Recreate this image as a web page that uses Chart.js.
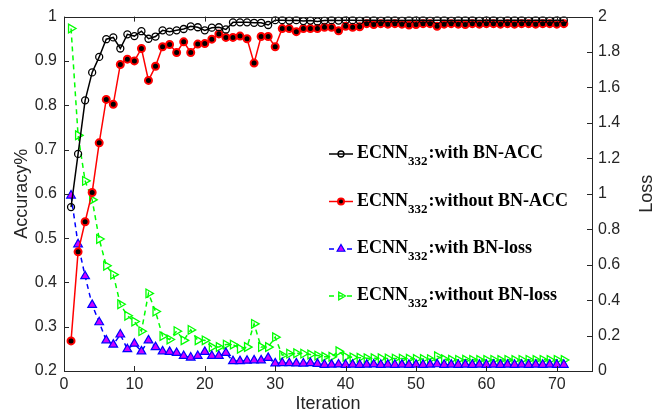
<!DOCTYPE html>
<html>
<head>
<meta charset="utf-8">
<script src="https://cdn.jsdelivr.net/npm/chart.js@4.4.1/dist/chart.umd.min.js"></script>
<style>
  html, body { margin: 0; padding: 0; background: #fff; }
  #chart { display: block; }
</style>
</head>
<body>
<canvas id="chart" width="658" height="415"></canvas>
<script>
// Iterations on the x axis
const iterations = [1, 2, 3, 4, 5, 6, 7, 8, 9, 10, 11, 12, 13, 14, 15, 16, 17, 18, 19, 20,
  21, 22, 23, 24, 25, 26, 27, 28, 29, 30, 31, 32, 33, 34, 35, 36, 37, 38, 39, 40,
  41, 42, 43, 44, 45, 46, 47, 48, 49, 50, 51, 52, 53, 54, 55, 56, 57, 58, 59, 60,
  61, 62, 63, 64, 65, 66, 67, 68, 69, 70, 71];

// Accuracy with BN (left axis)
const accWithBN = [0.570, 0.690, 0.811, 0.874, 0.909, 0.949, 0.953, 0.928, 0.960, 0.956,
  0.967, 0.950, 0.955, 0.969, 0.966, 0.969, 0.972, 0.978, 0.976, 0.969,
  0.975, 0.976, 0.971, 0.987, 0.987, 0.987, 0.986, 0.986, 0.981, 0.992,
  0.992, 0.991, 0.992, 0.990, 0.991, 0.989, 0.991, 0.992, 0.991, 0.992,
  0.992, 0.991, 0.992, 0.992, 0.991, 0.992, 0.992, 0.991, 0.992, 0.992,
  0.992, 0.991, 0.992, 0.992, 0.991, 0.992, 0.992, 0.992, 0.991, 0.992,
  0.992, 0.991, 0.992, 0.992, 0.992, 0.991, 0.992, 0.992, 0.991, 0.992, 0.992];

// Accuracy without BN (left axis)
const accWithoutBN = [0.268, 0.469, 0.537, 0.603, 0.715, 0.813, 0.802, 0.892, 0.904, 0.900,
  0.928, 0.856, 0.888, 0.932, 0.937, 0.919, 0.943, 0.919, 0.938, 0.939,
  0.949, 0.961, 0.953, 0.953, 0.956, 0.950, 0.895, 0.955, 0.955, 0.932,
  0.973, 0.973, 0.966, 0.973, 0.973, 0.973, 0.976, 0.976, 0.968, 0.978,
  0.976, 0.977, 0.984, 0.982, 0.984, 0.983, 0.984, 0.983, 0.981, 0.982,
  0.984, 0.984, 0.978, 0.983, 0.984, 0.983, 0.982, 0.984, 0.983, 0.984,
  0.984, 0.983, 0.984, 0.983, 0.984, 0.984, 0.983, 0.984, 0.984, 0.983, 0.984];

// Loss with BN (right axis)
const lossWithBN = [0.990, 0.715, 0.535, 0.373, 0.275, 0.173, 0.149, 0.206, 0.123, 0.154,
  0.111, 0.173, 0.135, 0.111, 0.108, 0.102, 0.085, 0.076, 0.085, 0.108,
  0.085, 0.085, 0.102, 0.056, 0.056, 0.058, 0.060, 0.060, 0.074, 0.043,
  0.045, 0.044, 0.043, 0.042, 0.045, 0.040, 0.035, 0.036, 0.037, 0.035,
  0.036, 0.035, 0.036, 0.037, 0.035, 0.036, 0.035, 0.036, 0.035, 0.036,
  0.035, 0.036, 0.038, 0.035, 0.036, 0.035, 0.036, 0.035, 0.036, 0.035,
  0.036, 0.035, 0.036, 0.035, 0.036, 0.035, 0.036, 0.035, 0.036, 0.035, 0.035];

// Loss without BN (right axis)
const lossWithoutBN = [1.933, 1.330, 1.073, 0.966, 0.745, 0.594, 0.544, 0.377, 0.312, 0.279,
  0.225, 0.438, 0.336, 0.197, 0.178, 0.225, 0.173, 0.232, 0.173, 0.173,
  0.135, 0.135, 0.149, 0.149, 0.126, 0.135, 0.266, 0.135, 0.135, 0.191,
  0.089, 0.098, 0.100, 0.098, 0.093, 0.087, 0.080, 0.080, 0.111, 0.080,
  0.077, 0.075, 0.072, 0.072, 0.072, 0.071, 0.070, 0.070, 0.069, 0.068,
  0.068, 0.067, 0.083, 0.066, 0.064, 0.063, 0.064, 0.063, 0.062, 0.063,
  0.063, 0.062, 0.063, 0.062, 0.063, 0.063, 0.062, 0.063, 0.062, 0.063, 0.062];

// Legend entries (name split around the subscript)
const legendNames = [':with BN-ACC', ':without BN-ACC', ':with BN-loss', ':without BN-loss'];

const SANS = '"Liberation Sans", Arial, sans-serif';
const SERIF = '"Liberation Serif", "Times New Roman", serif';
const AXIS_COLOR = '#262626';

function toPoints(values) {
  return iterations.map((it, i) => ({ x: it, y: values[i] }));
}

const datasets = [
  {
    label: 'ECNN332' + legendNames[0],
    data: toPoints(accWithBN),
    yAxisID: 'y',
    borderColor: '#000000',
    borderWidth: 1.5,
    pointStyle: 'circle',
    pointRadius: 3.5,
    pointBackgroundColor: 'rgba(0,0,0,0)',
    pointBorderColor: '#000000',
    pointBorderWidth: 1.3
  },
  {
    label: 'ECNN332' + legendNames[1],
    data: toPoints(accWithoutBN),
    yAxisID: 'y',
    borderColor: '#ff0000',
    borderWidth: 1.5,
    pointStyle: 'circle',
    pointRadius: 3.5,
    pointBackgroundColor: '#000000',
    pointBorderColor: '#ff0000',
    pointBorderWidth: 2
  },
  {
    label: 'ECNN332' + legendNames[2],
    data: toPoints(lossWithBN),
    yAxisID: 'y2',
    borderColor: '#0000ff',
    borderWidth: 1.5,
    borderDash: [5, 4],
    pointStyle: 'triangle',
    pointRadius: 5,
    pointBackgroundColor: '#cc00ff',
    pointBorderColor: '#0000ff',
    pointBorderWidth: 1.2
  },
  {
    label: 'ECNN332' + legendNames[3],
    data: toPoints(lossWithoutBN),
    yAxisID: 'y2',
    borderColor: '#00ff00',
    borderWidth: 1.5,
    borderDash: [5, 4],
    pointStyle: 'triangle',
    pointRotation: 90,
    pointRadius: 5,
    pointBackgroundColor: 'rgba(0,0,0,0)',
    pointBorderColor: '#00ff00',
    pointBorderWidth: 1.3
  }
];

function fmt(v) {
  return String(+v.toFixed(2));
}

// Box, inward tick marks, right axis title and the inline legend
const decorPlugin = {
  id: 'decor',
  afterDraw(chart) {
    const ctx = chart.ctx;
    const area = chart.chartArea;
    const xs = chart.scales.x, yl = chart.scales.y, yr = chart.scales.y2;
    const tl = 5;

    ctx.save();
    ctx.strokeStyle = AXIS_COLOR;
    ctx.lineWidth = 1;
    ctx.strokeRect(Math.round(area.left) + 0.5, Math.round(area.top) + 0.5,
      Math.round(area.right - area.left), Math.round(area.bottom - area.top));

    ctx.beginPath();
    xs.ticks.forEach(t => {
      const px = Math.round(xs.getPixelForValue(t.value)) + 0.5;
      ctx.moveTo(px, area.bottom); ctx.lineTo(px, area.bottom - tl);
      ctx.moveTo(px, area.top); ctx.lineTo(px, area.top + tl);
    });
    yl.ticks.forEach(t => {
      const py = Math.round(yl.getPixelForValue(t.value)) + 0.5;
      ctx.moveTo(area.left, py); ctx.lineTo(area.left + tl, py);
    });
    yr.ticks.forEach(t => {
      const py = Math.round(yr.getPixelForValue(t.value)) + 0.5;
      ctx.moveTo(area.right, py); ctx.lineTo(area.right - tl, py);
    });
    ctx.stroke();

    // right axis title, reading bottom to top like the left one
    ctx.fillStyle = AXIS_COLOR;
    ctx.font = '18px ' + SANS;
    ctx.textAlign = 'center';
    ctx.textBaseline = 'middle';
    ctx.translate(647, (area.top + area.bottom) / 2);
    ctx.rotate(-Math.PI / 2);
    ctx.fillText('Loss', 0, 0);
    ctx.restore();

    // legend
    const rows = [154, 201.5, 249, 296];
    const lineX0 = 329, lineX1 = 353, textX = 357;
    ctx.save();
    chart.data.datasets.forEach((ds, i) => {
      const y = rows[i];
      ctx.strokeStyle = ds.borderColor;
      ctx.lineWidth = ds.borderWidth;
      ctx.setLineDash(ds.borderDash || []);
      ctx.beginPath();
      ctx.moveTo(lineX0, y); ctx.lineTo(lineX1, y);
      ctx.stroke();
      ctx.setLineDash([]);
      if (Chart.helpers && Chart.helpers.drawPoint) {
        ctx.fillStyle = ds.pointBackgroundColor;
        ctx.strokeStyle = ds.pointBorderColor;
        ctx.lineWidth = ds.pointBorderWidth;
        Chart.helpers.drawPoint(ctx, {
          pointStyle: ds.pointStyle,
          radius: ds.pointStyle === 'triangle' ? 4.5 : 3,
          rotation: ds.pointRotation || 0,
          borderWidth: ds.pointBorderWidth
        }, (lineX0 + lineX1) / 2, y);
      }

      ctx.fillStyle = '#000';
      ctx.textAlign = 'left';
      ctx.textBaseline = 'alphabetic';
      ctx.font = 'bold 18px ' + SERIF;
      let x = textX;
      ctx.fillText('ECNN', x, y + 4);
      x += ctx.measureText('ECNN').width;
      ctx.font = 'bold 13px ' + SERIF;
      ctx.fillText('332', x, y + 11);
      x += ctx.measureText('332').width + 1;
      ctx.font = 'bold 18px ' + SERIF;
      ctx.fillText(legendNames[i], x, y + 4);
    });
    ctx.restore();
  }
};

const tickFont = { family: SANS, size: 16 };
const titleFont = { family: SANS, size: 18 };

new Chart(document.getElementById('chart').getContext('2d'), {
  type: 'line',
  data: { datasets: datasets },
  options: {
    responsive: false,
    animation: false,
    layout: { padding: { top: 12, left: 0, right: 0, bottom: 0 } },
    elements: { line: { tension: 0 } },
    plugins: {
      legend: { display: false },
      tooltip: { enabled: false }
    },
    scales: {
      x: {
        type: 'linear',
        min: 0,
        max: 75,
        grid: { display: false, drawTicks: false },
        border: { display: false },
        ticks: { stepSize: 10, includeBounds: false, color: AXIS_COLOR, font: tickFont, padding: 4, maxRotation: 0 },
        title: { display: true, text: 'Iteration', color: AXIS_COLOR, font: titleFont, padding: { top: 0, bottom: 0 } },
        afterFit(scale) { scale.height = 44; }
      },
      y: {
        position: 'left',
        min: 0.2,
        max: 1,
        grid: { display: false, drawTicks: false },
        border: { display: false },
        ticks: { stepSize: 0.1, color: AXIS_COLOR, font: tickFont, padding: 7, callback: v => fmt(v) },
        title: { display: true, text: 'Accuracy%', color: AXIS_COLOR, font: titleFont, padding: { top: 11, bottom: 0 } },
        afterFit(scale) { scale.width = 64; }
      },
      y2: {
        position: 'right',
        min: 0,
        max: 2,
        grid: { display: false, drawTicks: false },
        border: { display: false },
        ticks: { stepSize: 0.2, color: AXIS_COLOR, font: tickFont, padding: 6, callback: v => fmt(v) },
        afterFit(scale) { scale.width = 66; }
      }
    }
  },
  plugins: [decorPlugin]
});
</script>
</body>
</html>
